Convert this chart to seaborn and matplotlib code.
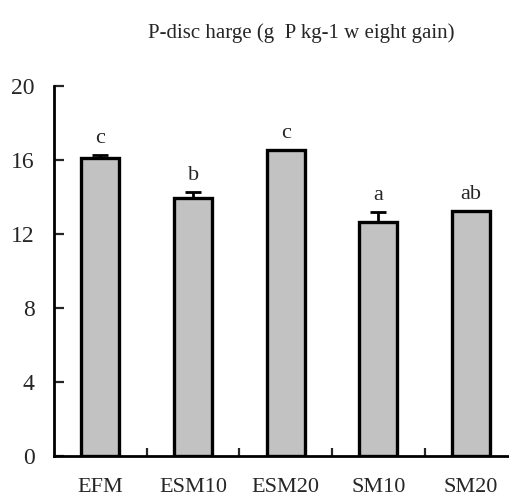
import numpy as np
import pandas as pd
import matplotlib
matplotlib.use('Agg')
import matplotlib.pyplot as plt
import seaborn as sns

# Datos
dietas = ['EFM', 'ESM10', 'ESM20', 'SM10', 'SM20']
descarga_p = [16.1, 13.95, 16.55, 12.65, 13.25]
error_sup = [0.2, 0.35, 0.0, 0.55, 0.0]
letras = ['c', 'b', 'c', 'a', 'ab']
yticks = [0, 4, 8, 12, 16, 20]

df = pd.DataFrame({'Dieta': dietas, 'P': descarga_p})

sns.set_style('white')
plt.rcParams['font.family'] = ['Liberation Serif', 'DejaVu Serif']

fig = plt.figure(figsize=(5.1, 5.03), dpi=100)
ax = fig.add_axes([0.106, 0.093, 0.894, 0.736])

sns.barplot(data=df, x='Dieta', y='P', ax=ax, color='#c2c2c2',
            edgecolor='black', linewidth=2.4, width=0.41,
            errorbar=None, saturation=1)

x = np.arange(len(dietas))
ax.errorbar(x, descarga_p, yerr=[np.zeros(len(dietas)), error_sup],
            fmt='none', ecolor='black', elinewidth=2, capsize=6, capthick=2)

for xi, v, e, l in zip(x, descarga_p, error_sup, letras):
    ax.annotate(l, (xi, v + e), xytext=(0, 5), textcoords='offset points',
                ha='center', va='bottom', fontsize=16)

ax.set_xlim(-0.5, 4.42)
ax.set_ylim(0, 20)
ax.set_yticks(yticks)
ax.set_yticklabels([str(t) for t in yticks], fontsize=17)
ax.set_xticks(x)
ax.set_xticklabels(dietas, fontsize=16)
ax.set_xticks(x[:-1] + 0.5, minor=True)
ax.tick_params(axis='x', which='major', length=0, pad=16)
ax.tick_params(axis='x', which='minor', direction='in', length=6, width=1.6, bottom=True)
ax.tick_params(axis='y', direction='in', length=7, width=1.6, pad=14, left=True)
ax.set_xlabel('')
ax.set_ylabel('')

for s in ['top', 'right']:
    ax.spines[s].set_visible(False)
for s in ['left', 'bottom']:
    ax.spines[s].set_linewidth(2)
    ax.spines[s].set_color('black')

fig.text(0.59, 0.935, 'P-disc harge (g  P kg-1 w eight gain)', ha='center',
         va='center', fontsize=15)

fig.savefig('out.png', dpi=100)
